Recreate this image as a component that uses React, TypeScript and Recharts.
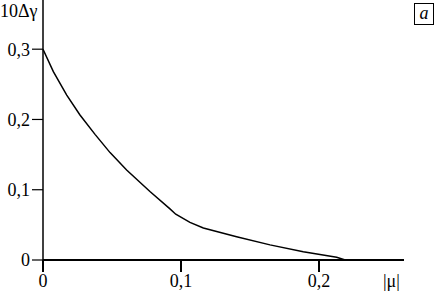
import * as React from "react"
import { LineChart, Line, XAxis, YAxis } from "recharts"

// |mu| values and the matching 10*delta-gamma readings
const muValues = [0, 0.0075, 0.0172, 0.0268, 0.0377, 0.0486, 0.0606, 0.0775, 0.092, 0.0962, 0.1065, 0.1162, 0.1403, 0.1645, 0.1886, 0.2128, 0.219]
const gammaValues = [0.3, 0.268, 0.2347, 0.2063, 0.1788, 0.1528, 0.128, 0.0975, 0.0728, 0.0652, 0.0535, 0.0455, 0.0332, 0.0215, 0.0118, 0.0038, 0]

const xTicks = [0, 0.1, 0.2]
const yTicks = [0, 0.1, 0.2, 0.3]

const data = muValues.map((mu, i) => ({ mu, g: gammaValues[i] }))

const font = "'Liberation Serif', 'Times New Roman', serif"
const fmt = (v: number) => (v === 0 ? "0" : String(v).replace(".", ","))

export default function App() {
    return (
        <div style={{ position: "absolute", left: 0, top: 0, width: 440, height: 295, background: "#fff", fontFamily: font }}>
            <LineChart width={440} height={295} data={data} margin={{ top: 0, right: 36, left: 0, bottom: 0 }}>
                <XAxis
                    dataKey="mu"
                    type="number"
                    domain={[0, 0.2616]}
                    ticks={xTicks}
                    tickFormatter={fmt}
                    height={35}
                    tickSize={12}
                    tickMargin={2}
                    axisLine={{ stroke: "#000", strokeWidth: 2 }}
                    tickLine={{ stroke: "#000", strokeWidth: 2 }}
                    tick={{ fill: "#000", fontSize: 18, fontFamily: font }}
                />
                <YAxis
                    type="number"
                    domain={[0, 0.37]}
                    ticks={yTicks}
                    tickFormatter={fmt}
                    width={43}
                    tickSize={11}
                    tickMargin={2}
                    axisLine={{ stroke: "#000", strokeWidth: 1.5 }}
                    tickLine={{ stroke: "#000", strokeWidth: 1.2 }}
                    tick={{ fill: "#000", fontSize: 18, fontFamily: font }}
                />
                <Line dataKey="g" type="linear" stroke="#000" strokeWidth={1.5} dot={false} isAnimationActive={false} />
            </LineChart>
            <div style={{ position: "absolute", left: 0, top: 0, fontSize: 18, lineHeight: "22px", color: "#000" }}>10Δγ</div>
            <div style={{ position: "absolute", left: 383, top: 270, fontSize: 18, lineHeight: "22px", color: "#000" }}>|μ|</div>
            <div
                style={{
                    position: "absolute", left: 414, top: 3, width: 18, height: 20, border: "1px solid #000",
                    fontSize: 18, fontStyle: "italic", lineHeight: "19px", textAlign: "center", color: "#000",
                }}
            >
                a
            </div>
        </div>
    )
}
